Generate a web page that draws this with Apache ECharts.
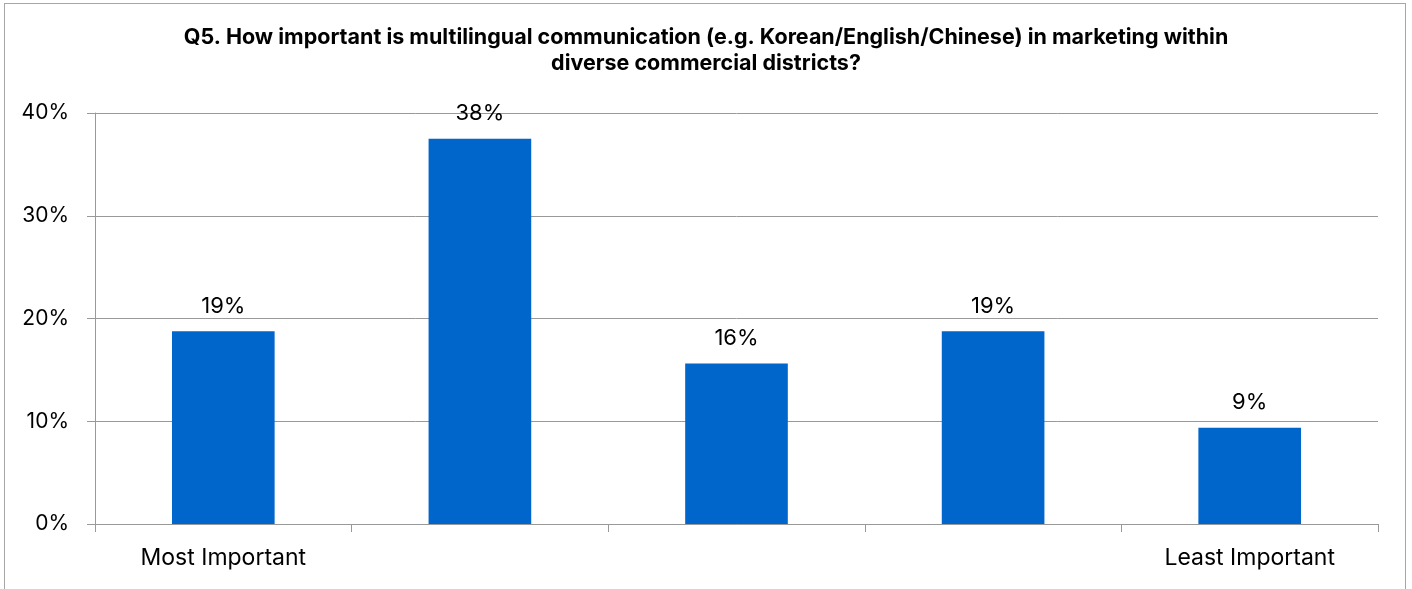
<!DOCTYPE html>
<html>
<head>
<meta charset="utf-8">
<script src="https://cdn.jsdelivr.net/npm/echarts@6/dist/echarts.min.js"></script>
<style>
  html, body { margin: 0; padding: 0; background: #fff; }
  #frame { position: absolute; left: 4px; top: 3px; width: 1402px; height: 600px; border: 1.5px solid #a6a6a6; box-sizing: border-box; }
  #main { position: absolute; left: 0; top: 0; width: 1412px; height: 589px; }
</style>
</head>
<body>
<div id="frame"></div>
<div id="main"></div>
<script>
// 类目（只有首尾有文字）
var categories = ['Most Important', '', '', '', 'Least Important'];
// 各选项占比（%）
var values = [18.75, 37.5, 15.625, 18.75, 9.375];
// Y轴刻度
var yTicks = [0, 10, 20, 30, 40];

var myChart = echarts.init(document.getElementById('main'));

var option = {
    animation: false,
    title: {
        text: 'Q5. How important is multilingual communication (e.g. Korean/English/Chinese) in marketing within\ndiverse commercial districts?',
        left: 'center',
        top: 20,
        textStyle: {
            fontFamily: 'Inter',
            fontSize: 21.5,
            fontWeight: 'bold',
            color: '#000',
            lineHeight: 26
        }
    },
    grid: { left: 95, right: 34, top: 113, bottom: 65 },
    xAxis: {
        type: 'category',
        data: categories,
        axisLine: { lineStyle: { color: '#999', width: 1 } },
        axisTick: { show: true, length: 8, lineStyle: { color: '#999' } },
        axisLabel: {
            interval: 0,
            margin: 23,
            fontFamily: 'Inter',
            fontSize: 23,
            color: '#000'
        }
    },
    yAxis: {
        type: 'value',
        min: yTicks[0],
        max: yTicks[yTicks.length - 1],
        interval: 10,
        axisLine: { show: true, lineStyle: { color: '#999', width: 1 } },
        axisTick: { show: true, length: 8, lineStyle: { color: '#999' } },
        splitLine: { lineStyle: { color: '#999', width: 1 } },
        axisLabel: {
            margin: 26,
            fontFamily: 'Inter',
            fontSize: 21,
            color: '#000',
            formatter: '{value}%'
        }
    },
    series: [
        {
            type: 'bar',
            data: values,
            barWidth: '40%',
            itemStyle: { color: '#0066CC' },
            label: {
                show: true,
                position: 'top',
                distance: 14,
                fontFamily: 'Inter',
                fontSize: 22,
                color: '#000',
                formatter: function (p) { return Math.round(p.value) + '%'; }
            }
        }
    ]
};

myChart.setOption(option);
</script>
</body>
</html>
